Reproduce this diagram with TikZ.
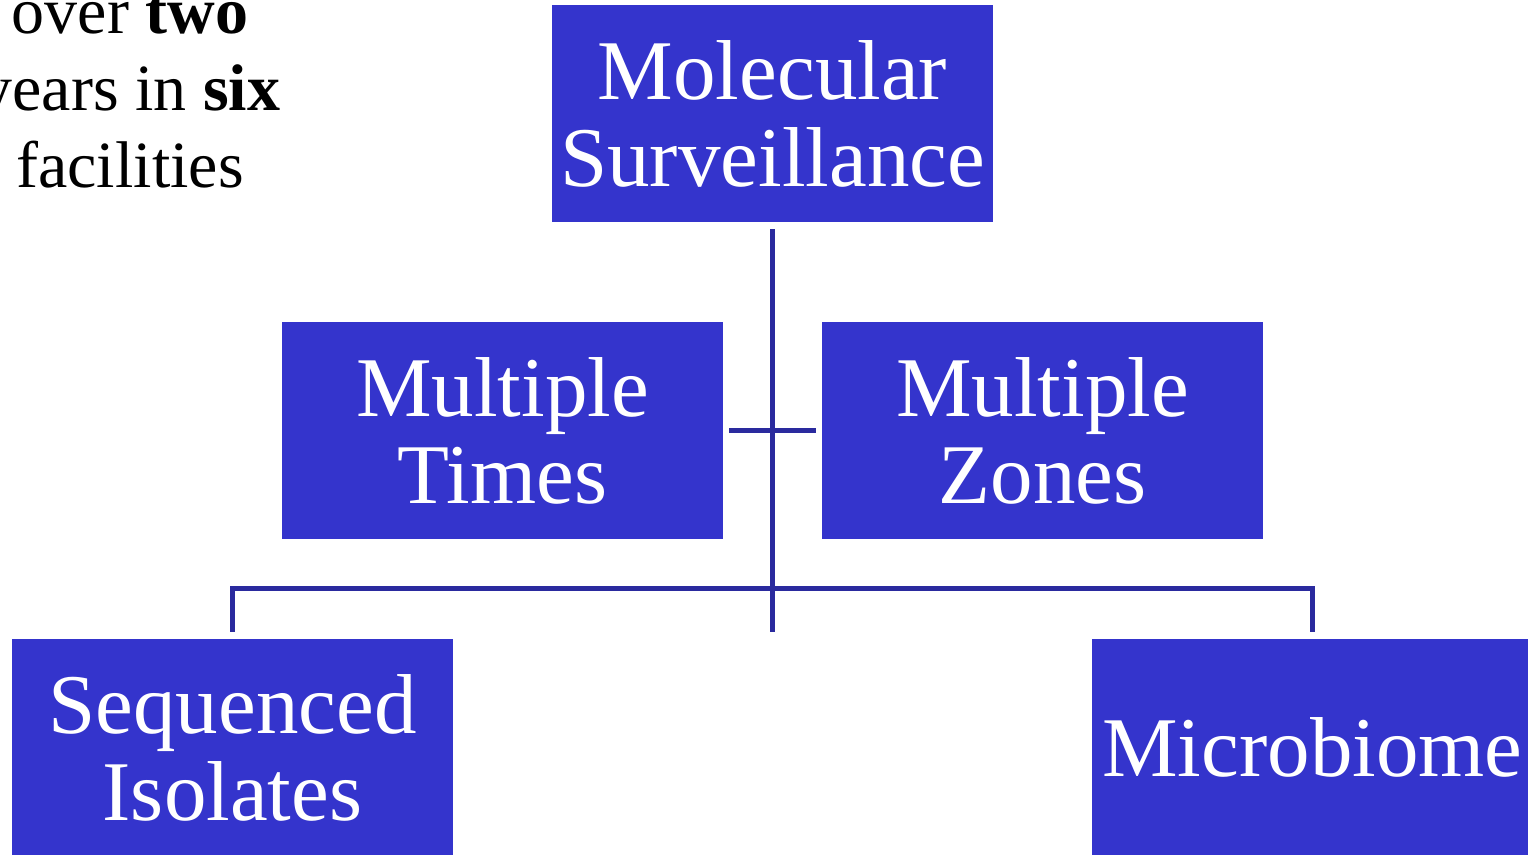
\documentclass[tikz,border=0pt]{standalone}
\usepackage{fontspec}
\setmainfont{Liberation Serif}
\definecolor{boxblue}{RGB}{52, 52, 204}
\definecolor{linkblue}{RGB}{42, 42, 158}

\begin{document}
\begin{tikzpicture}[
            x=0.5pt, y=-0.5pt,
            box/.style={fill=boxblue, minimum width=220.5pt, minimum height=108.5pt, inner sep=0pt, align=center, text=white, font=\fontsize{42.5}{43.5}\selectfont},
            link/.style={draw=linkblue, line width=2.5pt}
        ]
            \clip (0,0) rectangle (1528,855);
            \node[align=center, anchor=base, font=\fontsize{33}{38.5}\selectfont] (note) at (130,188) {over \textbf{two}\\years in \textbf{six}\\facilities};

            \node[box] (surv) at (772.5,113.5) {Molecular\\Surveillance};
            \node[box] (times) at (502.5,431) {Multiple\\Times};
            \node[box] (zones) at (1042.5,431) {Multiple\\Zones};
            \node[box] (isol) at (232.5,747.5) {Sequenced\\Isolates};
            \node[box] (micro) at (1312.5,747.5) {Microbiome};
            \coordinate (fork) at (772.5,589);

            \draw[link, shorten <=3.5pt, shorten >=3.5pt] (surv.south) -- (surv.south |- isol.north);
            \draw[link, shorten <=3pt, shorten >=3pt] (times.east) -- (zones.west);
            \draw[link, shorten <=3.5pt, shorten >=3.5pt] (isol.north) |- (fork) -| (micro.north);
        \end{tikzpicture}
\end{document}
